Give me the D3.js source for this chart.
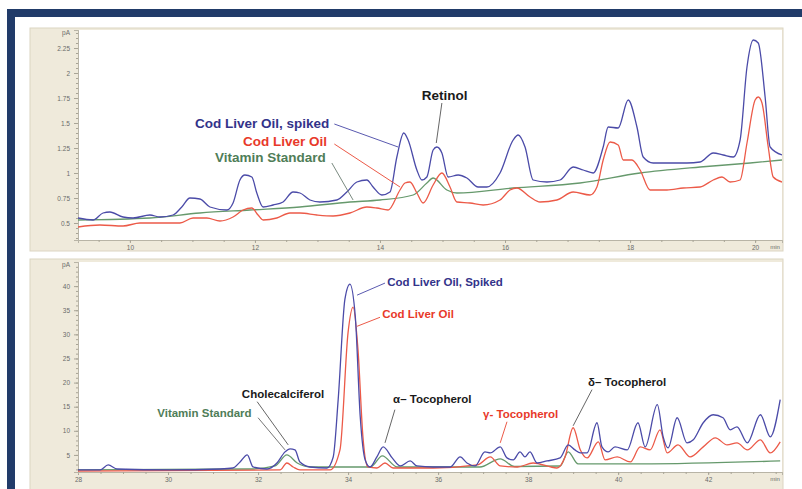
<!DOCTYPE html>
<html><head><meta charset="utf-8">
<script src="https://cdn.jsdelivr.net/npm/d3@7"></script>
<style>body{margin:0;background:#fff}svg{display:block;font-family:"Liberation Sans",Arial,sans-serif}</style>
</head><body><svg id="c" width="802" height="489"></svg>
<script>
// ---------- DATA (time in min, response in pA) ----------
const topSpiked = [[9.17,0.55],[9.41,0.53],[9.57,0.60],[9.68,0.61],[9.89,0.56],[10.05,0.55],[10.32,0.58],[10.48,0.56],[10.69,0.58],[10.83,0.66],[10.96,0.75],[11.12,0.74],[11.28,0.66],[11.55,0.63],[11.65,0.70],[11.76,0.93],[11.84,0.98],[11.95,0.96],[12.03,0.80],[12.13,0.66],[12.29,0.68],[12.45,0.71],[12.61,0.81],[12.72,0.80],[12.88,0.73],[13.04,0.71],[13.31,0.73],[13.47,0.81],[13.63,0.91],[13.79,0.93],[13.89,0.86],[14.03,0.78],[14.16,0.81],[14.27,1.16],[14.38,1.40],[14.45,1.33],[14.59,1.03],[14.67,0.93],[14.75,0.96],[14.85,1.23],[14.91,1.26],[14.99,1.20],[15.09,0.96],[15.25,0.98],[15.39,0.95],[15.57,0.86],[15.71,0.86],[15.92,1.00],[16.13,1.33],[16.21,1.38],[16.32,1.26],[16.45,0.93],[16.67,0.91],[16.88,0.93],[17.09,1.06],[17.25,1.03],[17.41,1.00],[17.57,1.26],[17.65,1.46],[17.81,1.45],[17.97,1.73],[18.11,1.46],[18.21,1.16],[18.37,1.10],[18.59,1.10],[18.91,1.10],[19.12,1.11],[19.33,1.20],[19.49,1.18],[19.65,1.16],[19.76,1.33],[19.87,2.06],[19.97,2.33],[20.05,2.30],[20.16,1.76],[20.24,1.26],[20.43,1.18]];
const topOil = [[9.17,0.46],[9.52,0.48],[9.89,0.47],[10.16,0.50],[10.59,0.50],[10.80,0.50],[11.01,0.55],[11.23,0.55],[11.44,0.52],[11.65,0.56],[11.81,0.63],[11.95,0.65],[12.05,0.58],[12.13,0.53],[12.35,0.55],[12.56,0.60],[12.72,0.60],[12.99,0.58],[13.25,0.57],[13.52,0.60],[13.79,0.66],[13.95,0.65],[14.13,0.63],[14.32,0.83],[14.40,0.90],[14.48,0.91],[14.59,0.80],[14.69,0.70],[14.85,0.88],[14.99,1.00],[15.12,0.86],[15.23,0.71],[15.44,0.70],[15.65,0.68],[15.92,0.73],[16.08,0.83],[16.19,0.85],[16.40,0.76],[16.56,0.71],[16.83,0.73],[17.09,0.81],[17.36,0.78],[17.47,0.86],[17.57,1.13],[17.68,1.31],[17.81,1.28],[17.89,1.13],[18.03,1.13],[18.16,1.03],[18.32,0.83],[18.59,0.83],[18.85,0.85],[19.12,0.86],[19.33,0.93],[19.47,0.96],[19.60,0.91],[19.76,0.93],[19.87,1.30],[20.00,1.73],[20.05,1.76],[20.11,1.70],[20.21,1.26],[20.29,0.96],[20.43,0.91]];
const topStd = [[9.17,0.53],[10.32,0.55],[11.12,0.60],[11.92,0.63],[12.72,0.66],[13.52,0.71],[14.00,0.73],[14.53,0.78],[14.75,0.90],[14.85,0.95],[15.07,0.83],[15.23,0.80],[16.13,0.85],[17.20,0.90],[18.16,1.00],[19.12,1.06],[19.92,1.10],[20.43,1.13]];

const botSpiked = [[28.00,1.88],[28.49,1.88],[28.67,2.92],[28.87,2.08],[30.04,1.88],[31.16,2.08],[31.44,2.29],[31.60,3.54],[31.76,5.00],[31.89,2.50],[32.20,2.08],[32.42,3.33],[32.60,5.63],[32.71,6.25],[32.82,6.04],[32.93,3.54],[33.16,2.50],[33.53,2.29],[33.67,4.58],[33.78,16.46],[33.93,37.29],[34.04,40.42],[34.16,33.75],[34.27,12.92],[34.38,3.96],[34.49,2.50],[34.64,4.58],[34.78,6.67],[34.98,4.38],[35.16,2.71],[35.38,3.75],[35.53,2.71],[35.89,2.50],[36.27,2.50],[36.49,4.58],[36.64,3.33],[36.82,2.71],[37.04,5.63],[37.16,5.42],[37.38,6.67],[37.53,4.38],[37.67,3.96],[37.82,5.63],[37.93,4.58],[38.04,5.63],[38.20,3.33],[38.42,3.75],[38.71,4.38],[38.89,7.08],[39.04,6.04],[39.16,5.42],[39.31,5.42],[39.53,11.67],[39.64,6.67],[39.78,5.63],[39.93,6.67],[40.20,6.04],[40.44,11.67],[40.60,6.67],[40.87,15.42],[41.00,8.75],[41.11,6.46],[41.31,12.71],[41.53,7.50],[41.67,8.13],[41.89,11.67],[42.11,13.33],[42.33,12.71],[42.49,10.21],[42.64,10.83],[42.87,7.50],[43.16,13.33],[43.38,8.75],[43.60,16.46]];
const botOil = [[28.00,1.67],[30.00,1.75],[32.49,1.88],[32.64,3.33],[32.78,2.50],[32.93,1.88],[33.60,1.88],[33.82,6.04],[34.00,30.42],[34.11,35.63],[34.22,26.88],[34.33,8.75],[34.44,2.50],[34.64,2.29],[34.82,3.33],[35.00,2.29],[35.89,2.29],[36.87,2.92],[37.16,4.58],[37.38,2.71],[37.76,2.50],[38.11,3.33],[38.64,2.29],[38.82,4.58],[39.00,10.63],[39.16,6.04],[39.31,4.38],[39.56,7.71],[39.71,3.96],[39.98,4.58],[40.27,3.54],[40.49,6.67],[40.71,6.04],[40.93,10.21],[41.09,5.42],[41.33,7.08],[41.60,4.58],[41.89,6.67],[42.16,8.54],[42.42,7.08],[42.64,7.50],[42.87,6.04],[43.16,8.13],[43.38,5.42],[43.60,7.71]];
const botStd = [[28.00,1.88],[31.82,2.08],[32.38,2.71],[32.64,5.00],[32.87,3.33],[33.16,2.50],[34.50,2.50],[34.76,4.80],[35.09,2.50],[36.93,2.50],[37.38,4.20],[37.70,2.60],[38.71,2.70],[38.89,5.63],[39.11,3.13],[40.49,3.13],[43.60,3.75]];

const topYTicks = [0.5,0.75,1,1.25,1.5,1.75,2,2.25];
const topXTicks = [10,12,14,16,18,20];
const botYTicks = [5,10,15,20,25,30,35,40];
const botXTicks = [28,30,32,34,36,38,40,42];
const unitY = "pA", unitX = "min";

const seriesNames = ["Cod Liver Oil, spiked","Cod Liver Oil","Vitamin Standard"];
const colors = {blue:"#4b4ba8", red:"#ec5a48", green:"#66996c"};
const textColors = {blue:"#33338a", red:"#e8392a", green:"#4f7d58", black:"#1a1a1a"};

// annotations in data coordinates: [text, colorKey, tx, ty, x1, y1, x2, y2, leaderColor]
const topNotes = [
  ["Cod Liver Oil, spiked","blue",11.04,1.50,13.27,1.49,14.29,1.26,"#5a5ab0"],
  ["Cod Liver Oil","red",11.81,1.32,13.27,1.29,14.32,0.86,"#ec5a48"],
  ["Vitamin Standard","green",11.36,1.16,13.23,1.10,13.57,0.73,"#7a8a80"],
  ["Retinol","black",14.67,1.78,14.99,1.70,14.90,1.30,"#666"]
];
const botNotes = [
  ["Cod Liver Oil, Spiked","blue",34.87,40.83,34.20,38.13,34.82,40.63,"#5a5ab0"],
  ["Cod Liver Oil","red",34.76,34.17,34.20,31.67,34.71,33.54,"#ec5a48"],
  ["Cholecalciferol","black",31.64,17.71,31.98,16.04,32.67,7.08,"#666"],
  ["Vitamin Standard","green",29.76,13.75,32.00,12.71,32.60,6.04,"#777"],
  ["\u03b1\u2013 Tocopherol","black",35.0,16.67,35.04,14.38,34.82,7.50,"#666"],
  ["\u03b3- Tocopherol","red",37.0,13.54,37.53,11.88,37.38,7.50,"#ec5a48"],
  ["\u03b4\u2013 Tocopherol","black",39.33,20.21,39.42,18.54,39.00,11.04,"#666"]
];

// ---------- DRAW ----------
const svg = d3.select("#c");
svg.append("rect").attr("x",7).attr("y",9).attr("width",800).attr("height",490).attr("fill","#213b69");
svg.append("rect").attr("x",15).attr("y",17).attr("width",800).attr("height",480).attr("fill","#fff");

function panel(cfg){
  const g = svg.append("g");
  g.append("rect").attr("x",30).attr("y",cfg.boxTop).attr("width",753).attr("height",cfg.boxH)
    .attr("fill","#efeadb").attr("stroke","#dcd5c2").attr("stroke-width",1);
  const x = d3.scaleLinear().domain(cfg.xDom).range([78,782]);
  const y = d3.scaleLinear().domain(cfg.yDom).range([cfg.bottom,cfg.top]);
  g.append("rect").attr("x",78).attr("y",cfg.top).attr("width",704).attr("height",cfg.bottom-cfg.top).attr("fill","#fff");

  // y axis
  const yAx = g.append("g").attr("transform","translate(78,0)")
    .call(d3.axisLeft(y).tickValues(cfg.yTicks).tickFormat(d3.format("~g")).tickSize(4).tickPadding(4));
  const yMin = g.append("g").attr("transform","translate(78,0)")
    .call(d3.axisLeft(y).tickValues(cfg.yMinor).tickFormat("").tickSize(2));
  // x axis
  const xAx = g.append("g").attr("transform",`translate(0,${cfg.bottom})`)
    .call(d3.axisBottom(x).tickValues(cfg.xTicks).tickFormat(d3.format("d")).tickSize(3).tickPadding(2));
  const xMin = g.append("g").attr("transform",`translate(0,${cfg.bottom})`)
    .call(d3.axisBottom(x).tickValues(cfg.xMinor).tickFormat("").tickSize(2));
  [yAx,yMin,xAx,xMin].forEach(a=>{
    a.select(".domain").attr("stroke","#b8b4a6");
    a.selectAll(".tick line").attr("stroke","#a8a496");
    a.selectAll("text").attr("fill","#6a6a6a").attr("font-size",6.5).attr("font-family","Liberation Sans, Arial");
  });
  g.append("text").attr("x",70).attr("y",y(cfg.unitV)).attr("dy","0.35em").attr("text-anchor","end")
    .attr("font-size",6.5).attr("fill","#6a6a6a").text(unitY);
  g.append("text").attr("x",775).attr("y",cfg.bottom+5).attr("dy","0.71em").attr("text-anchor","middle")
    .attr("font-size",6).attr("fill","#6a6a6a").text(unitX);

  const line = d3.line().x(d=>x(d[0])).y(d=>y(d[1])).curve(d3.curveMonotoneX);
  const clipId = "clip"+cfg.id;
  g.append("clipPath").attr("id",clipId).append("rect").attr("x",78).attr("y",cfg.top).attr("width",704).attr("height",cfg.bottom-cfg.top);
  const lg = g.append("g").attr("clip-path",`url(#${clipId})`);
  [[cfg.std,colors.green],[cfg.oil,colors.red],[cfg.spiked,colors.blue]].forEach(([d,c])=>{
    lg.append("path").datum(d).attr("d",line).attr("fill","none").attr("stroke",c).attr("stroke-width",1.3).attr("stroke-linejoin","round");
  });

  cfg.notes.forEach(n=>{
    g.append("line").attr("x1",x(n[4])).attr("y1",y(n[5])).attr("x2",x(n[6])).attr("y2",y(n[7]))
      .attr("stroke",n[8]).attr("stroke-width",1);
    g.append("text").attr("x",x(n[2])).attr("y",y(n[3])).attr("dy","0.36em")
      .attr("font-size",cfg.fs).attr("font-weight","bold").attr("fill",textColors[n[1]]).text(n[0]);
  });
}

panel({id:"t", boxTop:28, boxH:223, top:30, bottom:240,
  xDom:[9.17,20.43], yDom:[0.33,2.43],
  yTicks:topYTicks, yMinor:d3.range(0.35,2.42,0.05), xTicks:topXTicks, xMinor:d3.range(9.5,20.3,0.5),
  unitV:2.4, spiked:topSpiked, oil:topOil, std:topStd, notes:topNotes, fs:13.5});
panel({id:"b", boxTop:259, boxH:240, top:262, bottom:472,
  xDom:[28,43.64], yDom:[1.46,45],
  yTicks:botYTicks, yMinor:d3.range(2,45,1), xTicks:botXTicks, xMinor:d3.range(28.5,43.6,0.5),
  unitV:44.4, spiked:botSpiked, oil:botOil, std:botStd, notes:botNotes, fs:11.5});
</script></body></html>
